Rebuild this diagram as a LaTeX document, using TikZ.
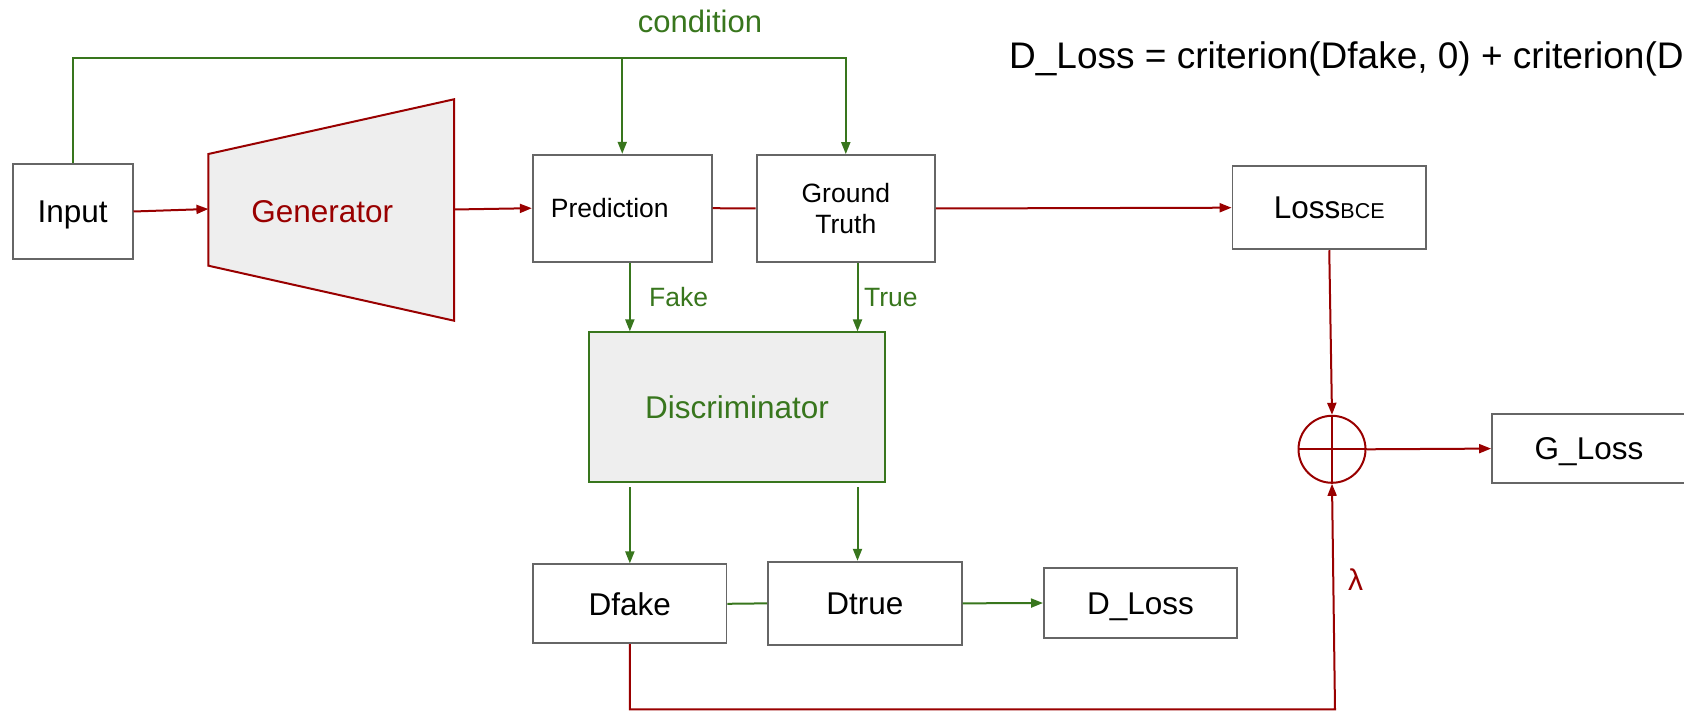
\documentclass[tikz,border=0pt]{standalone}
\usepackage{fontspec}
\setmainfont{Liberation Sans}
\usetikzlibrary{arrows.meta,calc}
\definecolor{gdred}{HTML}{990000}
\definecolor{gdgreen}{HTML}{38761D}
\definecolor{edgegray}{HTML}{666666}
\definecolor{fillgray}{HTML}{EEEEEE}

\begin{document}
\begin{tikzpicture}[x=1pt,y=-1pt,
  fbig/.style={font=\fontsize{31.5}{37}\selectfont},
  capbig/.style={fbig, text height=22.6pt, text depth=0pt},
  fmid/.style={font=\fontsize{26.5}{31}\selectfont},
  capmid/.style={fmid, text height=19pt, text depth=0pt},
  box/.style={draw=edgegray, line width=1.8pt, fill=white, inner sep=0pt},
  rline/.style={draw=gdred, line width=2pt},
  rarrow/.style={rline, -{Triangle[length=12pt,width=9pt]}},
  gline/.style={draw=gdgreen, line width=2pt},
  garrow/.style={gline, -{Triangle[length=12pt,width=9pt]}},
]
\useasboundingbox (0,0) rectangle (1684,711);

% formula at the top right
\node[font=\fontsize{37}{44}\selectfont, anchor=base west, inner sep=0pt] (formula) at (1009,68.3)
  {D\_Loss = criterion(Dfake, 0) + criterion(D};

% input and generator
\node[box, capbig, minimum width=120pt, minimum height=95pt] (in) at (72.6,211.5) {Input};
\coordinate (g1) at (208.4,154);
\coordinate (g2) at (454,99.3);
\coordinate (g3) at (454,320.7);
\coordinate (g4) at (208.4,265.7);
\draw[gdred, line width=2pt, fill=fillgray, line join=miter] (g1) -- (g2) -- (g3) -- (g4) -- cycle;
\node[capbig, text=gdred] (gen) at (322.3,211) {Generator};
\coordinate (genin) at (208.4,209);
\coordinate (genout) at (454,209.5);

% prediction and ground truth
\node[box, minimum width=179pt, minimum height=107pt,
  label={[capmid, xshift=-12.5pt]center:Prediction}] (pred) at (622.25,208.2) {};
\node[box, fmid, align=center, minimum width=178.4pt, minimum height=107pt] (gt) at (845.8,208.5) {Ground\\Truth};

% BCE loss, sum and generator loss
\node[box, capbig, minimum width=193.5pt, minimum height=83.3pt] (lbce) at (1329.25,207.7)
  {Loss{\fontsize{21.5}{24}\selectfont BCE}};
\node[circle, draw=gdred, line width=2pt, minimum size=67pt, inner sep=0pt] (sum) at (1332,449.3) {};
\draw[rline] (sum.north) -- (sum.south) (sum.west) -- (sum.east);
\node[box, capbig, minimum width=194pt, minimum height=69.3pt] (gloss) at (1589,448.6) {G\_Loss};

% discriminator and its outputs
\node[box, draw=gdgreen, fill=fillgray, text=gdgreen, capbig, minimum width=296.4pt, minimum height=150pt] (disc) at (737,407.3) {Discriminator};
\node[box, capbig, minimum width=193.3pt, minimum height=79pt] (dfake) at (629.85,603.8) {Dfake};
\node[box, capbig, minimum width=193.8pt, minimum height=83.3pt] (dtrue) at (864.8,603.35) {Dtrue};
\node[box, capbig, minimum width=193.3pt, minimum height=69.4pt] (dloss) at (1140.55,603) {D\_Loss};

% labels
\node[font=\fontsize{31}{36}\selectfont, text=gdgreen, anchor=base, inner sep=0pt] (cond) at (700,32.3) {condition};
\node[fmid, text=gdgreen, anchor=base west, inner sep=0pt] (fake) at (649,306.7) {Fake};
\node[fmid, text=gdgreen, anchor=base west, inner sep=0pt] (true) at (864,306.7) {True};
\node[font=\fontsize{30}{36}\selectfont, text=gdred, inner sep=0pt] (lam) at (1355.5,580) {λ};

% generator path (red)
\draw[rarrow] (in.east) -- (genin);
\draw[rarrow] (genout) -- (pred.west);
\draw[rline] (pred.east) -- (gt.west);
\draw[rarrow] (gt.east) -- (lbce.west);
\draw[rarrow] (lbce.south) -- (sum.north);
\draw[rarrow] (sum.east) -- (gloss.west);
\coordinate (lamx) at (1335,709.3);
\draw[rarrow] (dfake.south) |- (lamx) -- (sum.south);

% condition and discriminator path (green)
\coordinate (ctop) at (0,57.7);
\coordinate (tx) at (857.5,0);
\draw[garrow] (in.north) |- (gt.north |- ctop) -- (gt.north);
\draw[garrow] (pred.north |- ctop) -- (pred.north);
\draw[garrow] (pred.south -| dfake.north) -- (disc.north -| dfake.north);
\draw[garrow] (gt.south -| tx) -- (disc.north -| tx);
\draw[garrow, shorten <=4pt] (disc.south -| dfake.north) -- (dfake.north);
\draw[garrow, shorten <=4pt] (disc.south -| tx) -- (dtrue.north -| tx);
\draw[gline] (dfake.east) -- (dtrue.west);
\draw[garrow] (dtrue.east) -- (dloss.west);
\end{tikzpicture}
\end{document}
